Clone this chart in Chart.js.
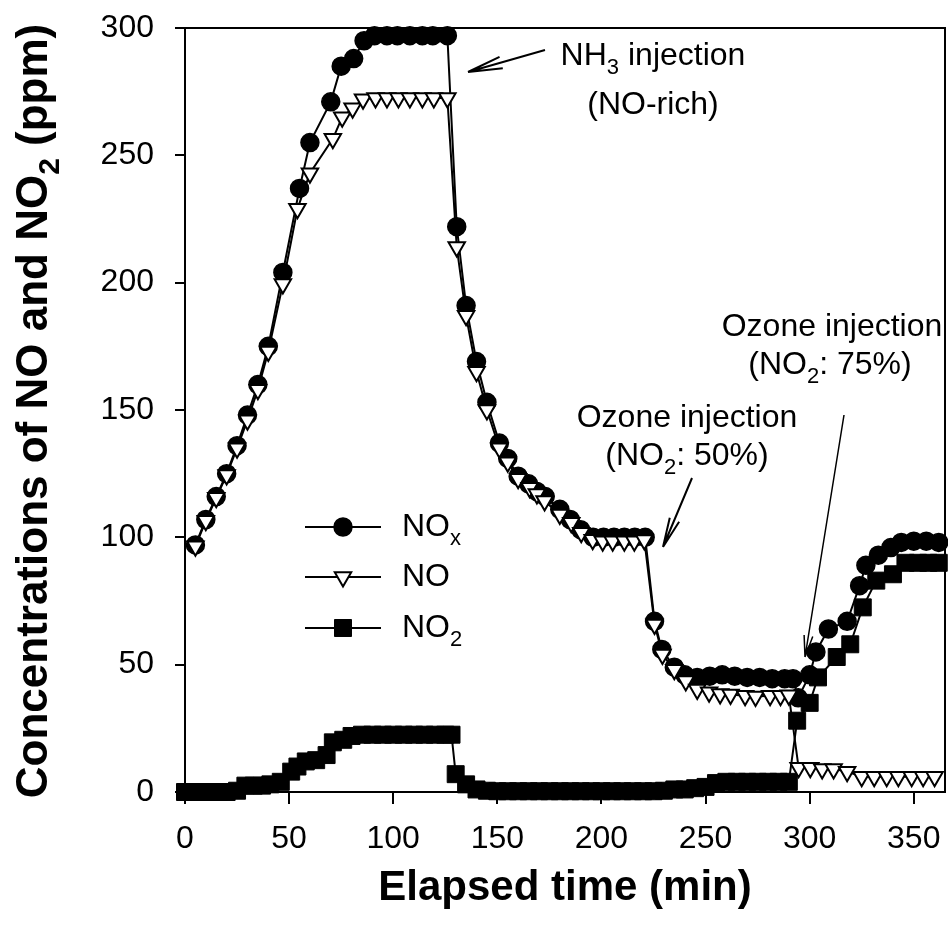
<!DOCTYPE html>
<html>
<head>
<meta charset="utf-8">
<script src="https://cdn.jsdelivr.net/npm/chart.js@4.4.1/dist/chart.umd.min.js"></script>
<style>
html,body{margin:0;padding:0;background:#fff;}
canvas{display:block;}
</style>
</head>
<body>
<canvas id="c" width="948" height="939"></canvas>
<script>
// ---------------- data ----------------
const seriesNames = ['NOx', 'NO', 'NO2'];

const noxTime = [5,10,15,20,25,30,35,40, 47,55,60,70,75,81,86, 91,97,102,108,114,119,126,
  130.5,135,140,145,151,155,160,165,169,173, 180,185,190,196,201,206,211,216,221,
  225.5,229,235,240,246, 252,258,264,270,276,282,288,292,
  294.5,300,303,309,318,324,327,333,339,344,350,356,362];
const noxValues = [97,107,116,125,136,148,160,175, 204,237,255,271,285,288,295, 297,297,297,297,297,297,297,
  222,191,169,153,137,131,124,121,118,116, 111,107,103,100,100,100,100,100,100,
  67,56,49,46,45, 45.5,46,45.5,45,45,44.5,44.5,44.5,
  37,46,55,64,67,81,89,93,96,98,98.5,98.5,98];

const noTime = [5,10,15,20,25,30,35,40, 47,54,60,71,75.5,80.5,85.5, 91.5,97,102.5,108,114,119.5,126,
  130.5,135,140,145,151,155,160,165.5,169,172.7, 180,185.5,190.3,195.8,200.6,205.4,211,215.8,220.6,
  225.5,229.3,235,240.5,246, 251.7,257,262,269,274,281,286,290,
  294.7,300.3,306,311.5,318,325,331,337,342.6,349,354.5,360];
const noValues = [96.5,106.5,115.5,124.5,135,146,158,173, 199.5,229,243,256.5,265,268.5,272, 272.5,272.5,272.5,272.5,272.5,272.5,272.5,
  214,187,165,150,135,129.5,123,119.5,117,114.3, 109,105.7,101.8,99.1,98.5,98.5,98.5,98.5,99,
  65.8,54,48,43.6,40.2, 39.2,38.5,38.3,37.8,37.5,37.8,37.8,38,
  9.5,9.5,9,9,8,6,6,6,6,6,6,6];

const no2Time = [0,4,8,12,16,20, 25,29,33,37,41,46, 51,54,58,63,68,71,76,80,85,
  90,95,100,105,110,115,120,125,128,
  130,135,140,145, 150,155,160,165,170,175,180,185,190,195,200,205,210,215,220,225,
  230,235,240,245,250,255, 260,265,270,275,280,285,290,
  294,300,304,313,319.5,325.5,332,340,346,352,357,362];
const no2Values = [0,0,0,0,0,0, 0.5,2.5,2.5,2.5,3,4, 8,10,12,12.5,14.5,19.5,20.5,22,22.5,
  22.5,22.5,22.5,22.5,22.5,22.5,22.5,22.5,22.5,
  7,3,1,0.5, 0.3,0.3,0.3,0.3,0.3,0.3,0.3,0.3,0.3,0.3,0.3,0.3,0.3,0.3,0.3,0.3,
  0.5,1,1,1.5,2,3.5, 4,4,4,4,4,4,4,
  28,35,45,53,58,72.5,83,85.5,90,90,90,90];

const xTicks = [0,50,100,150,200,250,300,350];
const yTicks = [0,50,100,150,200,250,300];

// ---------------- drawing ----------------
const FAM = '"Liberation Sans", Arial, Helvetica, sans-serif';
Chart.defaults.font.family = FAM;
Chart.defaults.color = '#000';

function pts(t, v) { return t.map((x, i) => ({x: x, y: v[i]})); }

function drawRich(ctx, parts, x, y, align, size, bold) {
  const w0 = bold ? 'bold ' : '';
  const subSize = Math.round(size * 0.68);
  const mainFont = w0 + size + 'px ' + FAM;
  const subFont = w0 + subSize + 'px ' + FAM;
  let w = 0;
  parts.forEach(p => { ctx.font = p[1] ? subFont : mainFont; w += ctx.measureText(p[0]).width; });
  let cx = align === 'center' ? x - w / 2 : (align === 'right' ? x - w : x);
  ctx.textAlign = 'left';
  ctx.textBaseline = 'alphabetic';
  parts.forEach(p => {
    ctx.font = p[1] ? subFont : mainFont;
    ctx.fillText(p[0], cx, y + (p[1] ? size * 0.28 : 0));
    cx += ctx.measureText(p[0]).width;
  });
}

function arrow(ctx, x1, y1, x2, y2, len, ang) {
  const a = Math.atan2(y1 - y2, x1 - x2);
  ctx.beginPath();
  ctx.moveTo(x1, y1); ctx.lineTo(x2, y2);
  ctx.moveTo(x2, y2); ctx.lineTo(x2 + len * Math.cos(a + ang), y2 + len * Math.sin(a + ang));
  ctx.moveTo(x2, y2); ctx.lineTo(x2 + len * Math.cos(a - ang), y2 + len * Math.sin(a - ang));
  ctx.stroke();
}

const markerStyles = [
  {pointStyle: 'circle', radius: 9, rotation: 0, borderWidth: 1.5, fill: '#000'},
  {pointStyle: 'triangle', radius: 9.5, rotation: 180, borderWidth: 2, fill: '#fff'},
  {pointStyle: 'rect', radius: 12, rotation: 0, borderWidth: 1, fill: '#000'}
];
const legendLabels = [[['NO', 0], ['x', 1]], [['NO', 0]], [['NO', 0], ['2', 1]]];

const decor = {
  id: 'decor',
  afterDraw(chart) {
    const ctx = chart.ctx, a = chart.chartArea;
    ctx.save();
    ctx.strokeStyle = '#000';
    ctx.fillStyle = '#000';
    ctx.lineWidth = 2;
    // frame top + right
    ctx.beginPath();
    ctx.moveTo(a.left, a.top); ctx.lineTo(a.right, a.top); ctx.lineTo(a.right, a.bottom);
    ctx.stroke();

    // axis titles
    ctx.font = 'bold 42px ' + FAM;
    ctx.textAlign = 'center'; ctx.textBaseline = 'alphabetic';
    ctx.fillText('Elapsed time (min)', 565, 900);
    ctx.save();
    ctx.translate(47, 411); ctx.rotate(-Math.PI / 2);
    drawRich(ctx, [['Concentrations of NO and NO', 0], ['2', 1], [' (ppm)', 0]], 0, 0, 'center', 44, true);
    ctx.restore();

    // legend
    const rows = [527, 577, 628];
    rows.forEach((ry, i) => {
      ctx.strokeStyle = '#000'; ctx.lineWidth = 2;
      ctx.beginPath(); ctx.moveTo(305, ry); ctx.lineTo(381, ry); ctx.stroke();
      const m = markerStyles[i];
      ctx.fillStyle = m.fill; ctx.lineWidth = m.borderWidth;
      Chart.helpers.drawPoint(ctx, {pointStyle: m.pointStyle, radius: m.radius, rotation: m.rotation, borderWidth: m.borderWidth}, 343, ry);
      ctx.fillStyle = '#000';
      drawRich(ctx, legendLabels[i], 402, ry + 9, 'left', 32, false);
    });

    // annotations
    ctx.fillStyle = '#000';
    drawRich(ctx, [['NH', 0], ['3', 1], [' injection', 0]], 653, 65, 'center', 32, false);
    drawRich(ctx, [['(NO-rich)', 0]], 653, 114, 'center', 32, false);
    drawRich(ctx, [['Ozone injection', 0]], 832, 336, 'center', 32, false);
    drawRich(ctx, [['(NO', 0], ['2', 1], [': 75%)', 0]], 830, 374, 'center', 32, false);
    drawRich(ctx, [['Ozone injection', 0]], 687, 427, 'center', 32, false);
    drawRich(ctx, [['(NO', 0], ['2', 1], [': 50%)', 0]], 687, 465, 'center', 32, false);

    ctx.strokeStyle = '#000'; ctx.lineWidth = 2;
    arrow(ctx, 545, 50, 468, 72, 35, 0.17);
    ctx.lineWidth = 2;
    arrow(ctx, 692, 478, 663, 547, 30, 0.17);
    ctx.lineWidth = 1.5;
    arrow(ctx, 844, 415, 805, 657, 22, 0.2);
    ctx.restore();
  }
};

function ds(i, t, v, order) {
  const m = markerStyles[i];
  return {
    label: seriesNames[i],
    data: pts(t, v),
    showLine: true,
    borderColor: '#000',
    borderWidth: 2,
    backgroundColor: m.fill,
    pointStyle: m.pointStyle,
    pointRadius: m.radius,
    pointRotation: m.rotation,
    pointBorderWidth: m.borderWidth,
    pointBorderColor: '#000',
    pointBackgroundColor: m.fill,
    tension: 0,
    clip: false,
    order: order
  };
}

const zeroPad = () => ({left: 0, top: 0, right: 0, bottom: 0});

new Chart(document.getElementById('c'), {
  type: 'scatter',
  data: {
    datasets: [
      ds(0, noxTime, noxValues, 1),
      ds(1, noTime, noValues, 0),
      ds(2, no2Time, no2Values, 2)
    ]
  },
  options: {
    responsive: false,
    animation: false,
    devicePixelRatio: 1,
    layout: {autoPadding: false, padding: {top: 28, right: 3, left: 0, bottom: 0}},
    plugins: {legend: {display: false}, tooltip: {enabled: false}},
    scales: {
      x: {
        type: 'linear', min: 0, max: 365,
        afterBuildTicks: s => { s.ticks = xTicks.map(v => ({value: v})); },
        afterFit: s => { s.height = 147; s.paddingLeft = 0; s.paddingRight = 0; s.getPadding = zeroPad; },
        ticks: {font: {size: 32}, color: '#000', padding: 16, maxRotation: 0},
        grid: {display: true, drawOnChartArea: false, drawTicks: true, tickLength: 12, color: '#000', lineWidth: 2},
        border: {display: true, color: '#000', width: 2}
      },
      y: {
        type: 'linear', min: 0, max: 300,
        afterBuildTicks: s => { s.ticks = yTicks.map(v => ({value: v})); },
        afterFit: s => { s.width = 185; s.paddingTop = 0; s.paddingBottom = 0; s.getPadding = zeroPad; },
        ticks: {font: {size: 32}, color: '#000', padding: 21},
        grid: {display: true, drawOnChartArea: false, drawTicks: true, tickLength: 10, color: '#000', lineWidth: 2},
        border: {display: true, color: '#000', width: 2}
      }
    }
  },
  plugins: [decor]
});
</script>
</body>
</html>
